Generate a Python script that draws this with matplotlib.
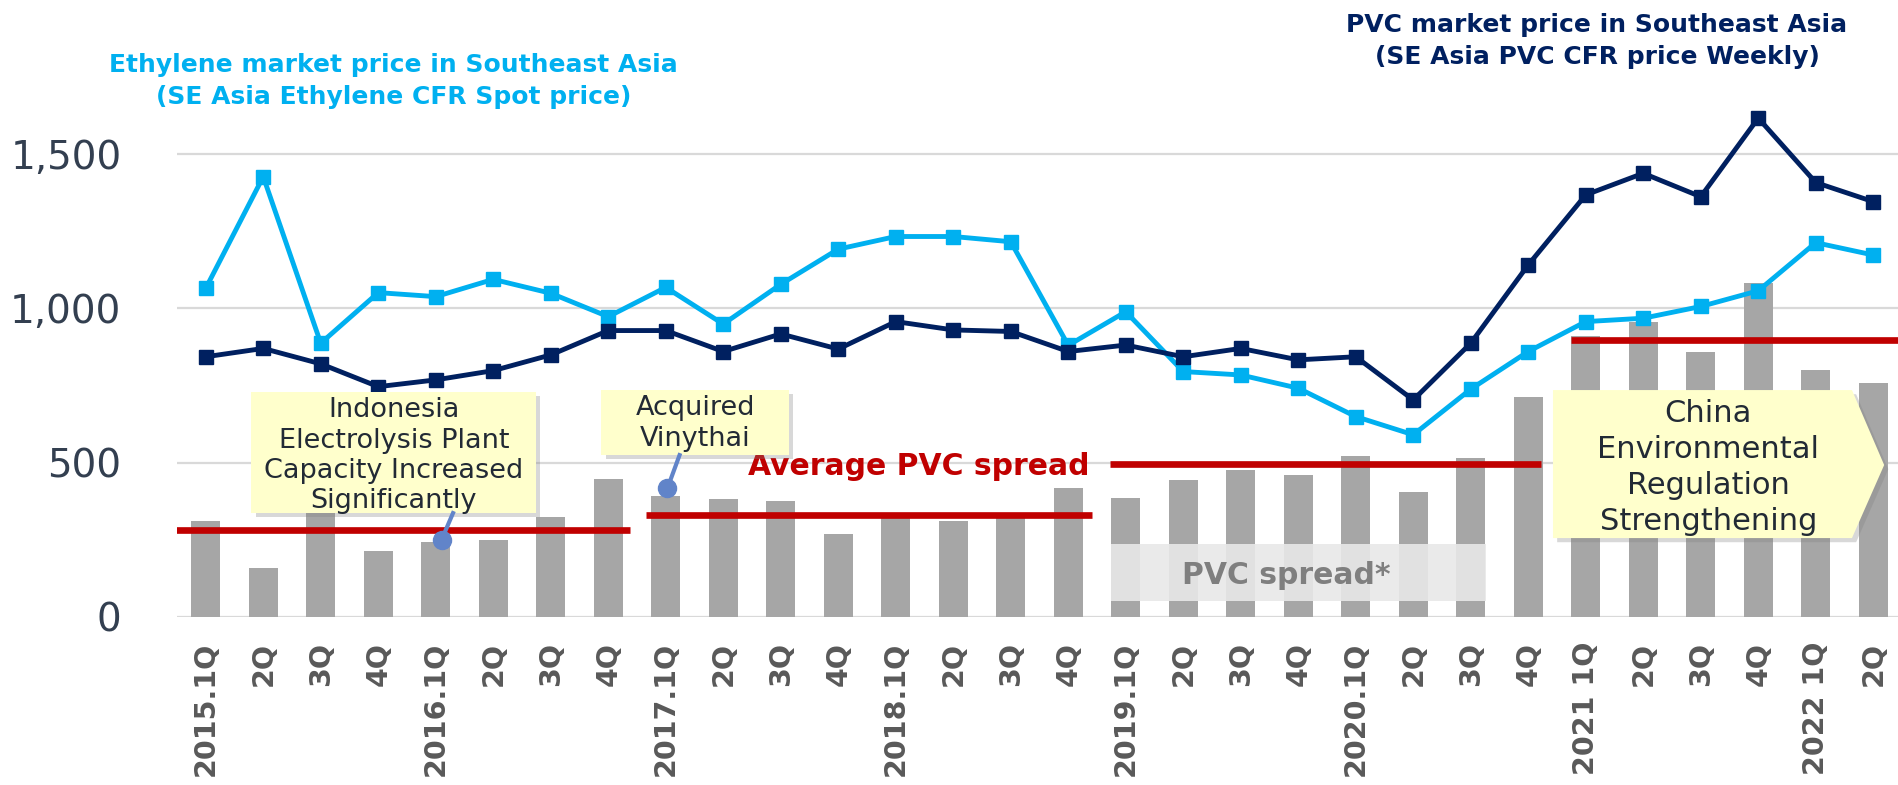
import matplotlib
matplotlib.use("Agg")
import matplotlib.pyplot as plt
import matplotlib.patheffects as pe
from matplotlib.patches import Rectangle, Polygon

# DATA
quarters = [
    "2015.1Q", "2Q", "3Q", "4Q",
    "2016.1Q", "2Q", "3Q", "4Q",
    "2017.1Q", "2Q", "3Q", "4Q",
    "2018.1Q", "2Q", "3Q", "4Q",
    "2019.1Q", "2Q", "3Q", "4Q",
    "2020.1Q", "2Q", "3Q", "4Q",
    "2021 1Q", "2Q", "3Q", "4Q",
    "2022 1Q", "2Q",
]

ethylene_price = [
    1065, 1427, 887, 1051, 1038, 1094, 1049, 973,
    1068, 949, 1078, 1192, 1233, 1233, 1216, 880,
    989, 795, 784, 741, 649, 590, 738, 860,
    957, 968, 1006, 1057, 1213, 1173,
]

pvc_price = [
    843, 870, 820, 746, 768, 798, 849, 928,
    928, 860, 917, 868, 957, 930, 925, 860,
    881, 843, 870, 833, 843, 703, 887, 1141,
    1368, 1438, 1362, 1617, 1408, 1346,
]

pvc_spread = [
    310, 157, 390, 214, 243, 248, 323, 447,
    393, 381, 376, 268, 335, 310, 319, 419,
    384, 443, 476, 460, 521, 405, 514, 714,
    910, 957, 860, 1083, 800, 759,
]

# average spread per period: (first quarter, last quarter, value)
avg_periods = [(0, 7, 280), (8, 15, 330), (16, 23, 495), (24, 29, 897)]

x = list(range(len(quarters)))

# FIGURE
fig = plt.figure(figsize=(18.98, 7.85), dpi=100)
ax = fig.add_axes([177 / 1898, (785 - 616.7) / 785, 1725 / 1898, 616.7 / 785])

ax.bar(x, pvc_spread, width=0.5, color="#A6A6A6", zorder=2)

ax.plot(x, ethylene_price, color="#00B0F0", lw=3.5, marker="s", ms=9.5, zorder=5)
ax.plot(x, pvc_price, color="#002060", lw=3.5, marker="s", ms=9.5, zorder=6)

# average spread lines (slightly wider than the quarters they cover)
offsets = [(-0.53, 0.37), (-0.34, 0.41), (-0.28, 0.23), (-0.25, 0.6)]
for (a, b, v), (da, db) in zip(avg_periods, offsets):
    ax.plot([a + da, b + db], [v, v], color="#C00000", lw=4.8, zorder=4,
            solid_capstyle="butt")

ax.set_xlim(-0.5, len(quarters) - 0.5)
ax.set_ylim(0, 2000)
ax.set_yticks([0, 500, 1000, 1500])
ax.set_yticklabels(["0", "500", "1,000", "1,500"])
ax.grid(axis="y", color="#D9D9D9", lw=1.6, zorder=0)
ax.set_axisbelow(True)
for s in ax.spines.values():
    s.set_visible(False)

ax.set_xticks(x)
ax.set_xticklabels(quarters, rotation=90, fontsize=20.5, fontweight="bold",
                   color="#595959", va="top", ha="center")
ax.tick_params(axis="x", length=0, pad=18)
ax.tick_params(axis="y", length=0, pad=40, labelsize=28, labelcolor="#333F50")

# PVC spread label box
ax.add_patch(Rectangle((15.74, 52), 6.52, 184, facecolor="#E8E8E8", alpha=0.9,
                       edgecolor="none", zorder=3))
ax.text(18.8, 135, "PVC spread*", fontsize=21.5, fontweight="bold", color="#7F7F7F",
        ha="center", va="center", zorder=4)

ax.text(12.4, 487, "Average PVC spread", fontsize=21.5, fontweight="bold",
        color="#C00000", ha="center", va="center", zorder=4)

shadow = [pe.SimplePatchShadow(offset=(3, -3), shadow_rgbFace="#808080", alpha=0.3),
          pe.Normal()]
note_color = "#222A35"
box_color = "#FFFFCC"
pointer_color = "#6184C9"

# Indonesia note
ax.add_patch(Rectangle((0.795, 336), 4.945, 394, facecolor=box_color, edgecolor="none",
                       zorder=7, path_effects=shadow))
ax.text(3.27, 522, "Indonesia\nElectrolysis Plant\nCapacity Increased\nSignificantly",
        fontsize=19.5, color=note_color, ha="center", va="center", linespacing=1.22,
        zorder=8)
ax.plot([4.30, 4.1], [336, 249], color=pointer_color, lw=3, zorder=7)
ax.plot([4.1], [249], "o", color=pointer_color, ms=13, zorder=7)

# Acquired note
ax.add_patch(Rectangle((6.88, 524), 3.26, 211, facecolor=box_color, edgecolor="none",
                       zorder=7, path_effects=shadow))
ax.text(8.51, 627, "Acquired\nVinythai", fontsize=19.5, color=note_color,
        ha="center", va="center", linespacing=1.22, zorder=8)
ax.plot([8.24, 8.03], [524, 417], color=pointer_color, lw=3, zorder=7)
ax.plot([8.03], [417], "o", color=pointer_color, ms=13, zorder=7)

# China note (pentagon arrow)
ax.add_patch(Polygon([(23.43, 735), (28.63, 735), (29.19, 492), (28.63, 255), (23.43, 255)],
                     closed=True, facecolor=box_color, edgecolor="none", zorder=7,
                     path_effects=shadow))
ax.text(26.13, 485, "China\nEnvironmental\nRegulation\nStrengthening", fontsize=22,
        color=note_color, ha="center", va="center", linespacing=1.3, zorder=8)

# series titles
fig.text(393.5 / 1898, 1 - 81 / 785,
         "Ethylene market price in Southeast Asia\n(SE Asia Ethylene CFR Spot price)",
         fontsize=18, fontweight="bold", color="#00B0F0", ha="center", va="center",
         linespacing=1.4)
fig.text(1597 / 1898, 1 - 41 / 785,
         "PVC market price in Southeast Asia\n(SE Asia PVC CFR price Weekly)",
         fontsize=18, fontweight="bold", color="#002060", ha="center", va="center",
         linespacing=1.4)

fig.savefig("out.png", dpi=100)
